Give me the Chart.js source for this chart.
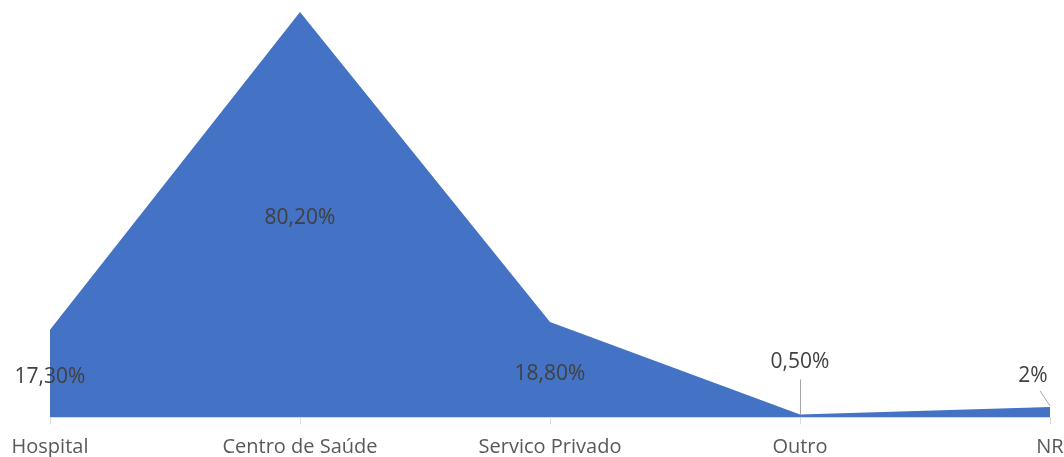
<!DOCTYPE html>
<html>
<head>
<meta charset="utf-8">
<script src="https://cdn.jsdelivr.net/npm/chart.js@4"></script>
<style>
  html, body { margin: 0; padding: 0; background: #fff; }
  #wrap { width: 1064px; height: 457px; }
</style>
</head>
<body>
<div id="wrap"><canvas id="chart"></canvas></div>
<script>
const categories = ['Hospital', 'Centro de Saúde', 'Servico Privado', 'Outro', 'NR'];
const values = [17.3, 80.2, 18.8, 0.5, 2];
const valueLabels = ['17,30%', '80,20%', '18,80%', '0,50%', '2%'];

const FONT = '"Open Sans", "Noto Sans", sans-serif';

// data labels, Excel-style: centred inside the area, small ones lifted with a leader line
const areaLabels = {
    id: 'areaLabels',
    afterDatasetsDraw(chart) {
        const ctx = chart.ctx;
        const meta = chart.getDatasetMeta(0);
        const base = chart.scales.y.getPixelForValue(0);
        ctx.save();
        ctx.font = '21px ' + FONT;
        ctx.fillStyle = '#404040';
        ctx.textAlign = 'center';
        ctx.textBaseline = 'middle';
        meta.data.forEach(function (pt, i) {
            let x = pt.x, y = (pt.y + base) / 2 + 4;
            if (i === 3) {
                y = pt.y - 52;
                ctx.strokeStyle = '#a6a6a6';
                ctx.lineWidth = 1;
                ctx.beginPath();
                ctx.moveTo(pt.x + 0.5, pt.y);
                ctx.lineTo(pt.x + 0.5, pt.y - 35);
                ctx.stroke();
            } else if (i === 4) {
                x = pt.x - 17;
                y = pt.y - 31;
                ctx.strokeStyle = '#a6a6a6';
                ctx.lineWidth = 1;
                ctx.beginPath();
                ctx.moveTo(pt.x, pt.y - 1);
                ctx.lineTo(pt.x - 10, pt.y - 16);
                ctx.stroke();
            }
            ctx.fillText(valueLabels[i], x, y);
        });
        ctx.restore();
    }
};

new Chart(document.getElementById('chart'), {
    type: 'line',
    data: {
        labels: categories,
        datasets: [{
            data: values,
            fill: 'origin',
            backgroundColor: '#4472C4',
            borderWidth: 0,
            borderColor: '#4472C4',
            pointRadius: 0,
            tension: 0
        }]
    },
    options: {
        responsive: true,
        maintainAspectRatio: false,
        animation: false,
        layout: { padding: { left: 50, right: 14, top: 12, bottom: 0 } },
        plugins: {
            legend: { display: false },
            tooltip: { enabled: false }
        },
        scales: {
            x: {
                offset: false,
                border: { display: true, color: '#d9d9d9', width: 1 },
                grid: { display: true, drawOnChartArea: false, drawTicks: true, tickLength: 7, color: '#d9d9d9' },
                ticks: {
                    color: '#595959',
                    font: { family: FONT, size: 20, lineHeight: 0.5 },
                    maxRotation: 0,
                    autoSkip: false,
                    padding: 18
                },
                afterFit: function (scale) {
                    scale.paddingLeft = 0;
                    scale.paddingRight = 0;
                    scale.height = 40;
                }
            },
            y: {
                display: false,
                min: 0,
                max: 80.2
            }
        }
    },
    plugins: [areaLabels]
});
</script>
</body>
</html>
